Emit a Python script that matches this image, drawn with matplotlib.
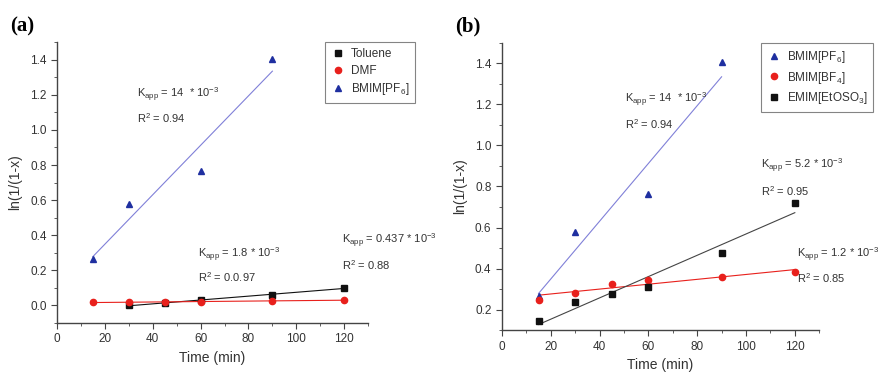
import numpy as np
import matplotlib
matplotlib.use("Agg")
import matplotlib.pyplot as plt
from matplotlib.ticker import MultipleLocator

plt.rcParams['font.family'] = ['Liberation Sans', 'DejaVu Sans']
plt.rcParams['mathtext.fontset'] = 'custom'
plt.rcParams['mathtext.rm'] = 'Liberation Sans'
plt.rcParams['mathtext.it'] = 'Liberation Sans'
plt.rcParams['mathtext.bf'] = 'Liberation Sans:bold'

# panel (a) data
t_tol = [30, 45, 60, 90, 120]
y_tol = [0.0, 0.015, 0.03, 0.06, 0.10]
t_dmf = [15, 30, 45, 60, 90, 120]
y_dmf = [0.02, 0.018, 0.017, 0.022, 0.025, 0.032]
t_pf6 = [15, 30, 60, 90]
y_pf6 = [0.265, 0.58, 0.765, 1.405]

# panel (b) data
t_bf4 = [15, 30, 45, 60, 90, 120]
y_bf4 = [0.249, 0.283, 0.325, 0.345, 0.358, 0.382]
t_emim = [15, 30, 45, 60, 90, 120]
y_emim = [0.143, 0.239, 0.277, 0.31, 0.476, 0.72]

blue = '#1f2fa0'
blue_line = '#8080d8'
red = '#e8201c'
black = '#111111'
txt = '#333333'


def fit_line(ax, x, y, color):
    p = np.polyfit(x, y, 1)
    xx = np.array([min(x), max(x)])
    ax.plot(xx, np.polyval(p, xx), color=color, lw=0.8, zorder=1)


def style(ax, ylo):
    ax.set_xlim(0, 130)
    ax.set_ylim(ylo, 1.5)
    ax.spines['top'].set_visible(False)
    ax.spines['right'].set_visible(False)
    for s in ['left', 'bottom']:
        ax.spines[s].set_color('#444444')
        ax.spines[s].set_linewidth(1.0)
    ax.xaxis.set_major_locator(MultipleLocator(20))
    ax.xaxis.set_minor_locator(MultipleLocator(10))
    ax.yaxis.set_major_locator(MultipleLocator(0.2))
    ax.yaxis.set_minor_locator(MultipleLocator(0.1))
    ax.tick_params(which='major', length=4, color='#444444', labelsize=8.5, labelcolor=txt)
    ax.tick_params(which='minor', length=2.5, color='#444444')
    ax.yaxis.set_major_formatter(plt.FuncFormatter(lambda v, _: '%.1f' % v))
    ax.set_xlabel('Time (min)', fontsize=10, color=txt, labelpad=4)
    ax.set_ylabel('ln(1/(1-x)', fontsize=10, color=txt, labelpad=6)


def note(ax, x, y, k, r2, dy):
    ax.text(x, y, r'K$_{app}$ = ' + k + r' * 10$^{-3}$', fontsize=8, color=txt, va='center')
    ax.text(x, y - dy, r'R$^{2}$ = ' + r2, fontsize=8, color=txt, va='center')


def legend(ax, handles, xa):
    leg = ax.legend(handles=handles, loc='upper left', bbox_to_anchor=(xa, 1.0),
                    borderaxespad=0, fontsize=8.5, frameon=True, fancybox=False,
                    handletextpad=0.5, borderpad=0.5, labelspacing=0.4, handlelength=1.2)
    leg.get_frame().set_edgecolor('#666666')
    leg.get_frame().set_linewidth(0.8)
    for tx in leg.get_texts():
        tx.set_color(txt)


fig = plt.figure(figsize=(8.79, 3.73), dpi=100)
ax1 = fig.add_axes([0.0648, 0.134, 0.354, 0.753])
ax2 = fig.add_axes([0.571, 0.115, 0.361, 0.770])

# (a)
fit_line(ax1, t_pf6, y_pf6, blue_line)
fit_line(ax1, t_tol, y_tol, black)
fit_line(ax1, t_dmf, y_dmf, red)
h1, = ax1.plot(t_tol, y_tol, 's', color=black, ms=4.5, ls='none', label='Toluene')
h2, = ax1.plot(t_dmf, y_dmf, 'o', color=red, ms=4.5, ls='none', label='DMF')
h3, = ax1.plot(t_pf6, y_pf6, '^', color=blue, ms=5, ls='none', label='BMIM[PF$_6$]')
style(ax1, -0.1)
note(ax1, 33.5, 1.20, '14 ', '0.94', 0.13)
note(ax1, 59, 0.29, '1.8', '0.0.97', 0.13)
note(ax1, 119, 0.37, '0.437', '0.88', 0.14)
legend(ax1, [h1, h2, h3], 0.862)

# (b)
fit_line(ax2, t_pf6, y_pf6, blue_line)
fit_line(ax2, t_bf4, y_bf4, red)
fit_line(ax2, t_emim, y_emim, '#444444')
g1, = ax2.plot(t_pf6, y_pf6, '^', color=blue, ms=5, ls='none', label='BMIM[PF$_6$]')
g2, = ax2.plot(t_bf4, y_bf4, 'o', color=red, ms=4.5, ls='none', label='BMIM[BF$_4$]')
g3, = ax2.plot(t_emim, y_emim, 's', color=black, ms=4.5, ls='none', label='EMIM[EtOSO$_3$]')
style(ax2, 0.1)
note(ax2, 50.4, 1.224, '14 ', '0.94', 0.122)
note(ax2, 106, 0.898, '5.2', '0.95', 0.122)
note(ax2, 121, 0.468, '1.2', '0.85', 0.116)
legend(ax2, [g1, g2, g3], 0.816)

fig.text(0.011, 0.93, '(a)', fontsize=15, fontweight='bold', family='Liberation Serif', va='center')
fig.text(0.518, 0.93, '(b)', fontsize=15, fontweight='bold', family='Liberation Serif', va='center')

fig.savefig('out.png', dpi=100)
